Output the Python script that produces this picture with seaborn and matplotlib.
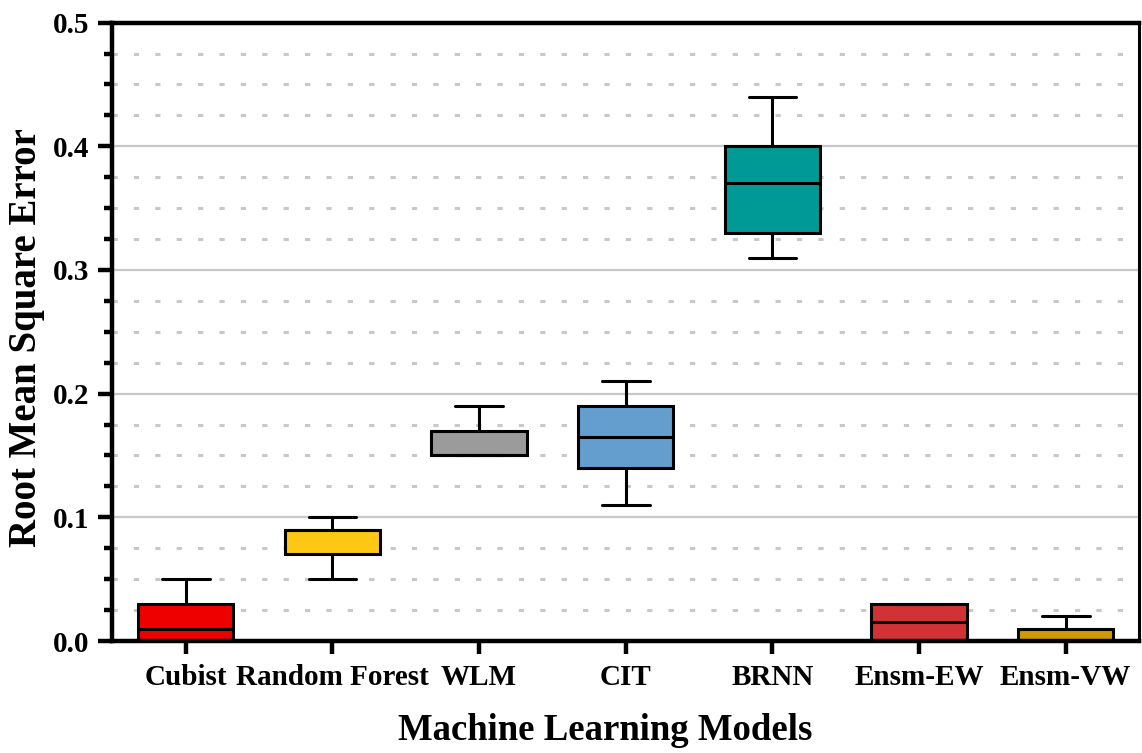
import numpy as np
import pandas as pd
import seaborn as sns
import matplotlib
matplotlib.use("Agg")
import matplotlib.pyplot as plt
from matplotlib.ticker import MultipleLocator, FormatStrFormatter

# ---- data (five-number summaries) ----
models = ["Cubist", "Random Forest", "WLM", "CIT", "BRNN", "Ensm-EW", "Ensm-VW"]
whisker_low = [0.00, 0.05, 0.15, 0.11, 0.31, 0.00, 0.00]
q1 = [0.00, 0.07, 0.15, 0.14, 0.33, 0.00, 0.00]
median = [0.01, 0.09, 0.15, 0.165, 0.37, 0.015, 0.00]
q3 = [0.03, 0.09, 0.17, 0.19, 0.40, 0.03, 0.01]
whisker_high = [0.05, 0.10, 0.19, 0.21, 0.44, 0.03, 0.02]
colors = ["#EE0000", "#FFC815", "#9B9B9B", "#639ECF", "#009A96", "#D03236", "#D09B00"]
y_ticks = [0.0, 0.1, 0.2, 0.3, 0.4, 0.5]

rows = []
for m, a, b, c, d, e in zip(models, whisker_low, q1, median, q3, whisker_high):
    for v in (a, b, c, d, e):
        rows.append({"model": m, "rmse": v})
df = pd.DataFrame(rows)

sns.set_style("white")
plt.rcParams["font.family"] = ["Liberation Serif", "DejaVu Serif"]
plt.rcParams["font.weight"] = "bold"
plt.rcParams["text.color"] = "black"
plt.rcParams["axes.labelcolor"] = "black"
plt.rcParams["xtick.color"] = "black"
plt.rcParams["ytick.color"] = "black"

fig = plt.figure(figsize=(11.42, 7.53), dpi=100)
ax = fig.add_axes([0.0985, 0.1487, 0.9974 - 0.0985, 0.970 - 0.1487])

sns.boxplot(data=df, x="model", y="rmse", hue="model", palette=colors,
            order=models, hue_order=models, whis=(0, 100), width=0.65,
            linewidth=2.2, linecolor="black", saturation=1, legend=False,
            fliersize=0, ax=ax)

ax.set_xlim(-0.5, 6.5)
ax.set_ylim(0, 0.5)
ax.set_yticks(y_ticks)
ax.yaxis.set_major_formatter(FormatStrFormatter("%.1f"))
ax.yaxis.set_minor_locator(MultipleLocator(0.025))

ax.set_axisbelow(True)
ax.grid(False)
ax.yaxis.grid(True, which="major", color="#c8c8c8", lw=1.6, ls="-")
ax.yaxis.grid(True, which="minor", color="#c8c8c8", lw=2.2, ls=(0, (1.7, 5.3)))

for side in ["left", "bottom", "top"]:
    ax.spines[side].set_visible(True)
    ax.spines[side].set_linewidth(3.2)
    ax.spines[side].set_color("black")
ax.spines["right"].set_visible(True)
ax.spines["right"].set_linewidth(2.2)
ax.spines["right"].set_color("black")

ax.tick_params(axis="y", which="major", direction="out", length=10, width=3.2,
               labelsize=21, pad=7, left=True, colors="black")
ax.tick_params(axis="y", which="minor", direction="out", length=5.5, width=3.2,
               left=True, colors="black")
ax.tick_params(axis="x", which="major", direction="out", length=9.5, width=3.2,
               labelsize=21, pad=7, bottom=True, colors="black")

for lab in ax.get_xticklabels() + ax.get_yticklabels():
    lab.set_fontweight("bold")
    lab.set_color("black")

ax.set_xlabel("Machine Learning Models", fontsize=26.5, fontweight="bold",
              labelpad=16, color="black")
ax.xaxis.label.set_x(0.48)
ax.set_ylabel("Root Mean Square Error", fontsize=28, fontweight="bold",
              labelpad=5.5, color="black")
ax.yaxis.label.set_y(0.49)

fig.savefig("out.png", dpi=100)
